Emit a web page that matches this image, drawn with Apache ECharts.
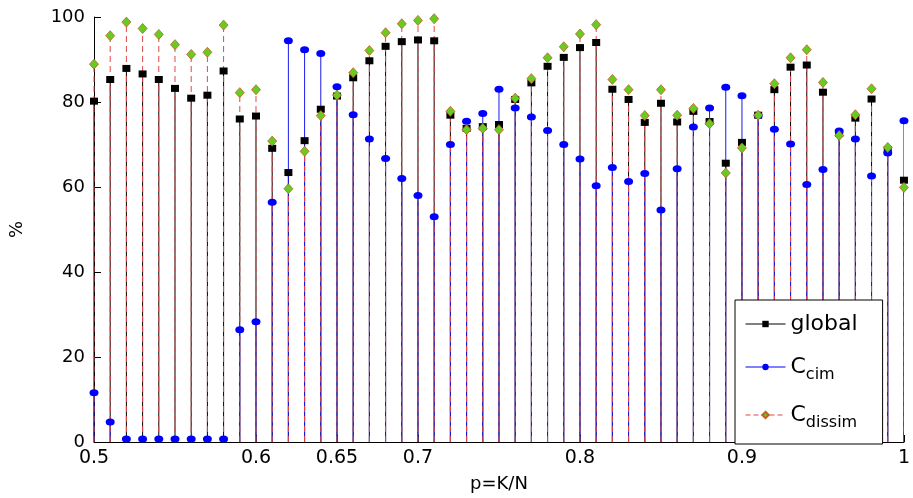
<!DOCTYPE html>
<html>
<head>
<meta charset="utf-8">
<script src="https://cdn.jsdelivr.net/npm/echarts@6/dist/echarts.min.js"></script>
<style>html,body{margin:0;padding:0;background:#fff;}#chart{width:913px;height:498px;}</style>
</head>
<body>
<div id="chart"></div>
<script>
// ---- data ----
const pValues = [0.50,0.51,0.52,0.53,0.54,0.55,0.56,0.57,0.58,0.59,
                 0.60,0.61,0.62,0.63,0.64,0.65,0.66,0.67,0.68,0.69,
                 0.70,0.71,0.72,0.73,0.74,0.75,0.76,0.77,0.78,0.79,
                 0.80,0.81,0.82,0.83,0.84,0.85,0.86,0.87,0.88,0.89,
                 0.90,0.91,0.92,0.93,0.94,0.95,0.96,0.97,0.98,0.99,1.00];
const globalVals = [80.2,85.3,87.9,86.6,85.3,83.2,80.9,81.6,87.3,76.0,
                    76.7,69.1,63.4,70.9,78.3,81.4,85.7,89.7,93.1,94.2,
                    94.6,94.4,76.9,73.8,74.2,74.7,80.6,84.5,88.4,90.5,
                    92.8,94.0,83.0,80.6,75.2,79.7,75.3,77.8,75.4,65.6,
                    70.5,76.9,82.9,88.2,88.7,82.3,72.6,76.2,80.7,68.8,61.6];
const cimVals = [11.6,4.7,0.7,0.7,0.7,0.7,0.7,0.7,0.7,26.4,
                 28.3,56.4,94.4,92.3,91.4,83.6,77.0,71.3,66.7,62.0,
                 58.0,53.0,70.0,75.5,77.3,83.0,78.6,76.5,73.3,70.0,
                 66.6,60.3,64.6,61.3,63.2,54.6,64.3,74.1,78.6,83.5,
                 81.5,76.8,73.6,70.1,60.6,64.1,73.2,71.3,62.6,68.0,75.6];
const dissimVals = [88.9,95.6,98.8,97.3,95.9,93.5,91.2,91.7,98.1,82.2,
                    82.9,70.8,59.6,68.4,76.8,81.6,86.9,92.1,96.3,98.4,
                    99.2,99.6,77.8,73.5,73.8,73.5,80.9,85.5,90.4,93.0,
                    96.0,98.2,85.3,82.9,76.8,82.9,76.9,78.5,74.9,63.3,
                    69.2,76.9,84.3,90.4,92.3,84.6,72.1,77.0,83.1,69.3,59.9];
const xTicks = [0.5,0.6,0.65,0.7,0.8,0.9,1];
const xTickLabels = ['0.5','0.6','0.65','0.7','0.8','0.9','1'];
const yTicks = [0,20,40,60,80,100];
const seriesNames = ['global','C_cim','C_dissim'];

// ---- chart ----
const FONT = 'DejaVu Sans';
function pairs(vals){ return pValues.map((p,i)=>[p, vals[i]]); }

function stemSeries(vals, color, dash, z){
  return {
    type:'custom', silent:true, z:z, clip:true,
    data: pairs(vals),
    encode:{x:0,y:1},
    renderItem: function(params, api){
      const x = api.value(0), v = api.value(1);
      const p0 = api.coord([x, 0]);
      const p1 = api.coord([x, v]);
      return {
        type:'line',
        shape:{x1:p0[0], y1:p0[1], x2:p1[0], y2:p1[1]},
        style:{stroke:color, lineWidth:1, lineDash: dash, fill:null}
      };
    }
  };
}
function markerSeries(name, vals, symbol, size, color, border, z){
  return {
    name:name, type:'line', z:z,
    data: pairs(vals),
    symbol: symbol, symbolSize: size, showSymbol:true, showAllSymbol:true,
    lineStyle:{opacity:0, width:0},
    itemStyle:{color:color, borderColor:border || color, borderWidth: border ? 0.8 : 0, opacity:1},
    emphasis:{disabled:true},
    animation:false
  };
}

const chart = echarts.init(document.getElementById('chart'), null, {renderer:'canvas'});
const option = {
  animation:false,
  backgroundColor:'#fff',
  grid:{left:92, right:1, top:17, bottom:50, containLabel:false},
  xAxis:{
    type:'value', min:0.5, max:1,
    name:'p=K/N', nameLocation:'middle', nameGap:33,
    nameTextStyle:{fontFamily:FONT, fontSize:18, color:'#000'},
    axisLine:{show:true, onZero:false, lineStyle:{color:'#000', width:1}},
    axisTick:{show:true, inside:true, length:7, customValues:xTicks, lineStyle:{color:'#000'}},
    axisLabel:{customValues:xTicks, fontFamily:FONT, fontSize:19, color:'#000', margin:7,
      formatter:function(v){ const i = xTicks.findIndex(t=>Math.abs(t-v)<1e-9); return i>=0 ? xTickLabels[i] : ''; }},
    splitLine:{show:false}
  },
  yAxis:{
    type:'value', min:0, max:100, interval:20,
    name:'%', nameLocation:'middle', nameGap:68, nameRotate:90,
    nameTextStyle:{fontFamily:FONT, fontSize:18, color:'#000'},
    axisLine:{show:true, lineStyle:{color:'#000', width:1}},
    axisTick:{show:true, inside:true, length:7, customValues:yTicks, lineStyle:{color:'#000'}},
    axisLabel:{customValues:yTicks, fontFamily:FONT, fontSize:18, color:'#000', margin:9},
    splitLine:{show:false}
  },
  legend:{
    orient:'vertical', left:735, top:300,
    padding:[13,25,13,10], itemGap:16, itemWidth:40, itemHeight:8,
    borderColor:'#000', borderWidth:1, backgroundColor:'#fff', borderRadius:0,
    selectedMode:false,
    textStyle:{fontFamily:FONT, fontSize:22, color:'#000',
      rich:{
        m:{fontFamily:FONT, fontSize:22, lineHeight:30, color:'#000'},
        s:{fontFamily:FONT, fontSize:16, lineHeight:14, padding:[16,0,0,0], color:'#000'}
      }},
    formatter:function(name){
      if(name==='global') return '{m|global}';
      if(name==='C_cim') return '{m|C}{s|cim}';
      return '{m|C}{s|dissim}';
    },
    data:[
      {name:'global', lineStyle:{color:'#000', width:1, opacity:1, type:'solid'}},
      {name:'C_cim', lineStyle:{color:'#0000ff', width:1, opacity:1, type:'solid'}},
      {name:'C_dissim', lineStyle:{color:'#e04848', width:1, opacity:1, type:[5,3]}}
    ]
  },
  series:[
    stemSeries(globalVals, '#000000', null, 1),
    stemSeries(cimVals, '#1a1aee', null, 2),
    stemSeries(dissimVals, '#e04848', [6,4], 3),
    markerSeries(seriesNames[0], globalVals, 'rect', [8,7], '#000000', null, 4),
    markerSeries(seriesNames[1], cimVals, 'circle', [9,7], '#0000ff', null, 5),
    markerSeries(seriesNames[2], dissimVals, 'diamond', [9,10], '#66cc22', '#c06020', 6)
  ]
};
chart.setOption(option);
</script>
</body>
</html>
